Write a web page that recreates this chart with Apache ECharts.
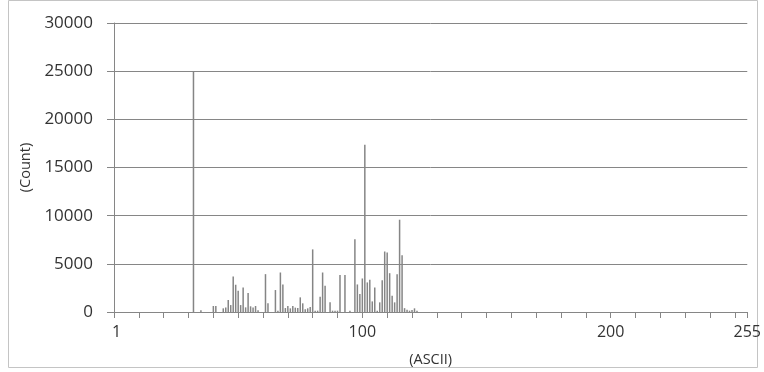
<!DOCTYPE html>
<html>
<head>
<meta charset="utf-8">
<script src="https://cdn.jsdelivr.net/npm/echarts@6/dist/echarts.min.js"></script>
<style>
html,body{margin:0;padding:0;background:#fff;}
#c{width:764px;height:372px;}
</style>
</head>
<body>
<div id="c"></div>
<script>
// ASCII codes and their counts
const asciiCodes = [32,35,40,41,44,45,46,47,48,49,50,51,52,53,54,55,56,57,58,61,62,
  65,66,67,68,69,70,71,72,73,74,75,76,77,78,79,80,81,82,83,84,85,87,88,89,90,91,93,95,
  97,98,99,100,101,102,103,104,105,106,107,108,109,110,111,112,113,114,115,116,117,118,119,120,121,122];
const counts = [25000,170,620,620,380,480,1240,720,3690,2830,2200,720,2550,480,1970,590,480,620,170,3930,900,
  2280,140,4100,2860,410,620,380,620,450,410,1520,900,280,380,520,6500,140,140,1590,4100,2720,1000,140,140,140,3850,3850,140,
  7550,2860,1860,3480,17350,3070,3340,1100,2550,140,1000,3300,6280,6170,4030,1690,1000,3930,9580,5900,400,240,140,220,380,140];
const xTickValues = [0,10,20,30,40,50,60,70,80,90,100,110,120,130,140,150,160,170,180,190,200,210,220,230,240,250,255];
const xLabelValues = [1,100,200,255];

const seriesData = asciiCodes.map((c, i) => [c, counts[i]]);

const chart = echarts.init(document.getElementById('c'), null, {renderer: 'canvas'});
const font = 'Open Sans, Noto Sans, sans-serif';
chart.setOption({
  animation: false,
  backgroundColor: '#fff',
  grid: {left: 114, right: 14, top: 23, bottom: 59, containLabel: false},
  graphic: [{
    type: 'rect', shape: {x: 8.5, y: 0.5, width: 749, height: 367},
    style: {fill: 'none', stroke: '#c4c4c4', lineWidth: 1}, silent: true, z: -10
  }],
  xAxis: {
    type: 'value', min: 0, max: 255,
    name: '(ASCII)', nameLocation: 'middle', nameGap: 40,
    nameTextStyle: {fontFamily: font, fontSize: 14.5, color: '#333333'},
    axisLine: {show: true, lineStyle: {color: '#868686', width: 1}},
    axisTick: {show: true, length: 6, inside: false, customValues: xTickValues, lineStyle: {color: '#868686'}},
    axisLabel: {customValues: xLabelValues, margin: 12, fontFamily: font, fontSize: 16, color: '#333333',
      formatter: v => String(v)},
    splitLine: {show: false}
  },
  yAxis: {
    type: 'value', min: 0, max: 30000, interval: 5000,
    name: '(Count)', nameLocation: 'middle', nameGap: 79, nameRotate: 90,
    nameTextStyle: {fontFamily: font, fontSize: 14.5, color: '#333333'},
    axisLine: {show: true, lineStyle: {color: '#868686', width: 1}},
    axisTick: {show: true, length: 7, inside: false, lineStyle: {color: '#868686'}},
    axisLabel: {margin: 21, fontFamily: font, fontSize: 17, color: '#333333', formatter: v => String(v)},
    splitLine: {show: true, lineStyle: {color: '#868686', width: 1}}
  },
  series: [{
    type: 'bar',
    data: seriesData,
    barWidth: 1.5,
    itemStyle: {color: '#858585'},
    silent: true
  }]
});
</script>
</body>
</html>
